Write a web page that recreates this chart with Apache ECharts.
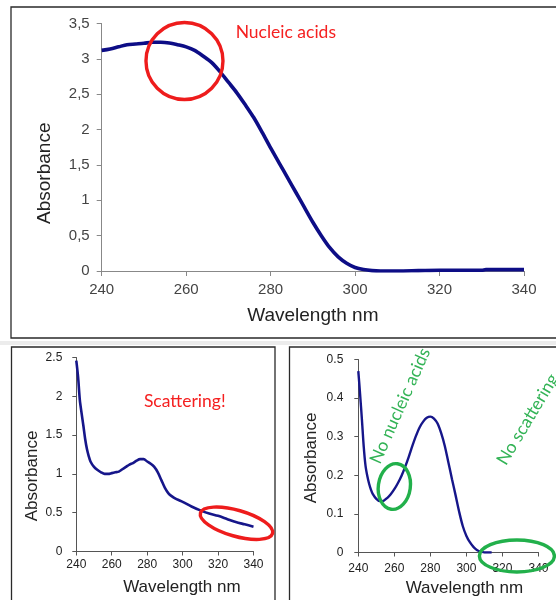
<!DOCTYPE html>
<html><head><meta charset="utf-8">
<script src="https://cdn.jsdelivr.net/npm/echarts@6/dist/echarts.min.js"></script>
<style>html,body{margin:0;padding:0;background:#fff}#c{width:556px;height:600px}</style>
</head><body><div id="c"></div>
<script>
// ---------- data ----------
const xTickLabels = ['240','260','280','300','320','340'];
const topYLabels = ['0','0,5','1','1,5','2','2,5','3','3,5'];
const leftYLabels = ['0','0.5','1','1.5','2','2.5'];
const rightYLabels = ['0','0.1','0.2','0.3','0.4','0.5'];

const topWavelength = [240,242,244,246,248,250,252,254,256,258,260,262,264,266,268,270,272,274,276,278,280,282,284,286,288,290,292,294,296,298,300,302,304,306,308,310,315,320,325,330,331,335,340];
const topAbsorbance = [3.12,3.14,3.17,3.20,3.21,3.22,3.235,3.235,3.225,3.20,3.17,3.12,3.04,2.95,2.82,2.67,2.52,2.35,2.17,1.96,1.74,1.53,1.32,1.11,0.90,0.69,0.50,0.33,0.20,0.11,0.05,0.02,0.005,0,0,0,0.005,0.01,0.01,0.01,0.02,0.02,0.02];

const leftWavelength = [240,241,242,243,244,245,246,247,248,250,252,254,256,258,260,262,264,266,268,270,272,274,276,278,280,282,284,286,288,290,292,294,296,298,300,305,310,315,320,325,330,335,340];
const leftAbsorbance = [2.46,2.25,1.95,1.78,1.62,1.45,1.32,1.23,1.16,1.09,1.05,1.02,1.00,1.00,1.01,1.02,1.03,1.06,1.09,1.12,1.14,1.17,1.19,1.19,1.16,1.13,1.09,1.02,0.92,0.82,0.75,0.71,0.68,0.66,0.64,0.58,0.53,0.49,0.46,0.42,0.38,0.35,0.32];

const rightWavelength = [240,241,242,243,244,245,246,247,248,250,252,254,256,258,260,262,264,266,268,270,272,274,276,278,280,282,284,286,288,290,292,294,296,298,300,302,304,306,308,310,312,314];
const rightAbsorbance = [0.47,0.41,0.345,0.275,0.225,0.198,0.178,0.163,0.152,0.139,0.133,0.134,0.141,0.151,0.164,0.180,0.199,0.222,0.248,0.276,0.302,0.324,0.339,0.349,0.352,0.347,0.334,0.309,0.276,0.233,0.190,0.148,0.105,0.068,0.043,0.026,0.014,0.006,0.002,0,0,0];

// annotation anchors in data coordinates
const annTexts = [
  {grid:0, at:[283.6,3.37], text:'Nucleic acids', color:'#f52020', angle:0},
  {grid:1, at:[301.2,1.93], text:'Scattering!', color:'#f52020', angle:0},
  {grid:2, at:[263.2,0.38], text:'No nucleic acids', color:'#33b356', angle:66},
  {grid:2, at:[334,0.345], text:'No scattering', color:'#33b356', angle:59}
];
const annShapes = [
  {grid:0, at:[259.6,2.97], rx:38.5, ry:38.5, angle:0, color:'#ee1c1c'},
  {grid:1, at:[330.4,0.364], rx:37.5, ry:13, angle:-16, color:'#ee1c1c'},
  {grid:2, at:[260,0.171], rx:16, ry:23, angle:-8, color:'#22b04b'},
  {grid:2, at:[328,-0.009], rx:37.5, ry:16, angle:0, color:'#22b04b'}
];

// ---------- chart ----------
const chart = echarts.init(document.getElementById('c'), null, {renderer:'canvas'});
const pairs = (xs, ys) => xs.map((x,i)=>[x, ys[i]]);
const AF = 'Liberation Sans, Arial, sans-serif';

function xAx(grid, opt){
  return {
    type:'value', gridIndex:grid, min:240, max:340, interval:20,
    axisLine:{lineStyle:{color:opt.axisColor, width:1}},
    axisTick:{length:opt.tick, lineStyle:{color:opt.axisColor}},
    splitLine:{show:false},
    axisLabel:{fontFamily:AF, fontSize:opt.fs, color:opt.labelColor, margin:opt.xMargin,
      formatter:(v)=>xTickLabels[Math.round((v-240)/20)]},
    name:'Wavelength nm', nameLocation:'middle', nameGap:opt.xNameGap,
    nameTextStyle:{fontFamily:AF, fontSize:opt.nameFs, color:'#222', padding:opt.xNamePad}
  };
}
function yAx(grid, max, interval, labels, opt){
  return {
    type:'value', gridIndex:grid, min:0, max:max, interval:interval,
    axisLine:{show:true, lineStyle:{color:opt.axisColor, width:1}},
    axisTick:{show:true, length:opt.tick, lineStyle:{color:opt.axisColor}},
    splitLine:{show:false},
    axisLabel:{fontFamily:AF, fontSize:opt.fs, color:opt.labelColor, margin:opt.yMargin,
      formatter:(v)=>labels[Math.round(v/interval)]},
    name:'Absorbance', nameLocation:'middle', nameGap:opt.yNameGap,
    nameTextStyle:{fontFamily:AF, fontSize:opt.nameFs, color:'#222', padding:opt.yNamePad}
  };
}
const topOpt = {axisColor:'#888', tick:5, fs:15, labelColor:'#444', xMargin:11, yMargin:12, nameFs:19, xNameGap:35, yNameGap:47, xNamePad:[0,0,0,0], yNamePad:[0,52,0,0]};
const leftOpt = {axisColor:'#555', tick:4, fs:12, labelColor:'#222', xMargin:7, yMargin:14, nameFs:17, xNameGap:27, yNameGap:35, xNamePad:[0,0,0,34], yNamePad:[0,43,0,0]};
const rightOpt = {axisColor:'#555', tick:4, fs:12, labelColor:'#222', xMargin:10, yMargin:15, nameFs:17, xNameGap:27, yNameGap:38, xNamePad:[0,0,0,32], yNamePad:[0,4,0,0]};

const frames = [
  {type:'rect', shape:{x:11,y:7,width:560,height:331}, style:{fill:'none', stroke:'#2a2a2a', lineWidth:1.3}, silent:true, z:-1},
  {type:'rect', shape:{x:0,y:341,width:556,height:4}, style:{fill:'#ececec'}, silent:true, z:-2},
  {type:'rect', shape:{x:11.5,y:347,width:263.5,height:270}, style:{fill:'none', stroke:'#2a2a2a', lineWidth:1.3}, silent:true, z:-1},
  {type:'rect', shape:{x:289.5,y:347,width:280,height:270}, style:{fill:'none', stroke:'#2a2a2a', lineWidth:1.3}, silent:true, z:-1}
];

chart.setOption({
  animation:false,
  backgroundColor:'#fff',
  grid:[
    {left:101.7, right:32, top:23.5, bottom:329},
    {left:76.3, right:302.5, top:357.5, bottom:48.5},
    {left:358.3, right:17.5, top:359.5, bottom:47.5}
  ],
  xAxis:[xAx(0, topOpt), xAx(1, leftOpt), xAx(2, rightOpt)],
  yAxis:[yAx(0, 3.5, 0.5, topYLabels, topOpt), yAx(1, 2.5, 0.5, leftYLabels, leftOpt), yAx(2, 0.5, 0.1, rightYLabels, rightOpt)],
  series:[
    {type:'line', xAxisIndex:0, yAxisIndex:0, data:pairs(topWavelength, topAbsorbance), smooth:0.3, showSymbol:false, lineStyle:{color:'#0d0d86', width:3.6}},
    {type:'line', xAxisIndex:1, yAxisIndex:1, data:pairs(leftWavelength, leftAbsorbance), smooth:0.3, showSymbol:false, lineStyle:{color:'#16168a', width:2.6}},
    {type:'line', xAxisIndex:2, yAxisIndex:2, data:pairs(rightWavelength, rightAbsorbance), smooth:0.3, showSymbol:false, lineStyle:{color:'#16168a', width:2.4}}
  ],
  graphic: frames
});

const g = frames.slice();
annShapes.forEach(a=>{
  const p = chart.convertToPixel({gridIndex:a.grid}, a.at);
  g.push({type:'ellipse', x:p[0], y:p[1], rotation:a.angle*Math.PI/180, shape:{cx:0,cy:0,rx:a.rx,ry:a.ry},
    style:{fill:'none', stroke:a.color, lineWidth:3.4}, z:50, silent:true});
});
annTexts.forEach(a=>{
  const p = chart.convertToPixel({gridIndex:a.grid}, a.at);
  g.push({type:'text', x:p[0], y:p[1], rotation:a.angle*Math.PI/180,
    style:{text:a.text, fill:a.color, font:'17.5px Lato, "Open Sans", sans-serif', align:'center', verticalAlign:'middle'}, z:51, silent:true});
});
chart.setOption({graphic: g}, {replaceMerge:['graphic']});
</script>
</body></html>
